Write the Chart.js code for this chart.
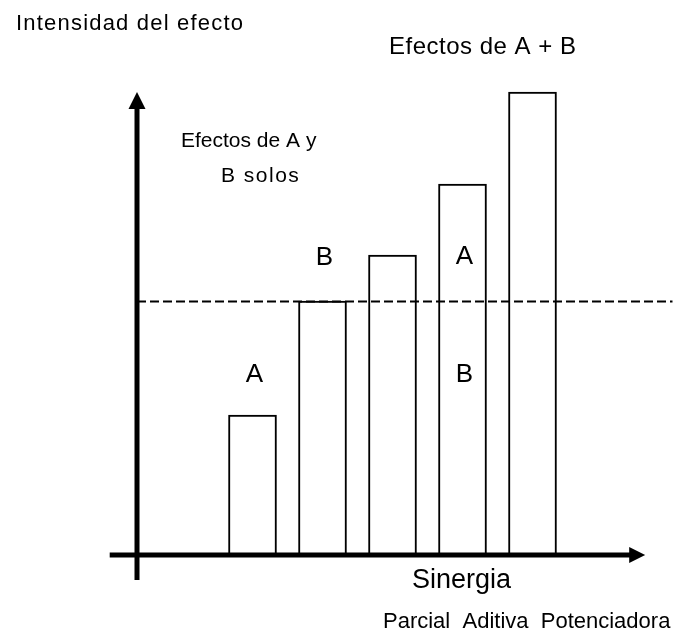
<!DOCTYPE html>
<html>
<head>
<meta charset="utf-8">
<script src="https://cdn.jsdelivr.net/npm/chart.js@4/dist/chart.umd.min.js"></script>
<style>
    body { margin: 0; background: #fff; }
    #wrap { width: 673px; height: 644px; }
</style>
</head>
<body>
<div id="wrap"><canvas id="sinergiaChart" width="673" height="644"></canvas></div>
<script>
// bar positions along the x axis and the effect intensity of each bar
const barPositions = [1, 2, 3, 4, 5];
const intensities = [1.40, 2.54, 3.00, 3.71, 4.63];
// dashed reference line = effect of B alone
const thresholdValue = 2.54;
// letters written over / inside the bars: [bar position, value, text]
const barLetters = [[1, 1.73, 'A'], [2, 2.90, 'B'], [4, 2.91, 'A'], [4, 1.73, 'B']];
const sinergiaTypes = ['Parcial', 'Aditiva', 'Potenciadora'];

const FONT = '"Liberation Sans", Arial, sans-serif';

const drawingPlugin = {
    id: 'drawing',
    afterDatasetsDraw(chart) {
        const ctx = chart.ctx;
        const xs = chart.scales.x;
        const ys = chart.scales.y;

        const axisX = xs.getPixelForValue(-0.65);
        const baseY = ys.getPixelForValue(0);
        const xLeft = xs.getPixelForValue(-1.04);
        const xTip = xs.getPixelForValue(6.61);
        const yTip = ys.getPixelForValue(4.63);
        const yBottom = ys.getPixelForValue(-0.25);

        ctx.save();
        // dashed threshold line
        const ty = Math.round(ys.getPixelForValue(thresholdValue)) + 0.5;
        ctx.strokeStyle = '#000';
        ctx.lineWidth = 2;
        ctx.setLineDash([9, 4]);
        ctx.beginPath();
        ctx.moveTo(axisX, ty);
        ctx.lineTo(chart.chartArea.right, ty);
        ctx.stroke();
        ctx.setLineDash([]);

        // axes
        ctx.lineWidth = 5;
        ctx.beginPath();
        ctx.moveTo(axisX, yBottom);
        ctx.lineTo(axisX, yTip + 16);
        ctx.moveTo(xLeft, baseY);
        ctx.lineTo(xTip - 14, baseY);
        ctx.stroke();

        ctx.fillStyle = '#000';
        ctx.beginPath();
        ctx.moveTo(axisX, yTip);
        ctx.lineTo(axisX - 8.5, yTip + 17);
        ctx.lineTo(axisX + 8.5, yTip + 17);
        ctx.closePath();
        ctx.fill();
        ctx.beginPath();
        ctx.moveTo(xTip, baseY);
        ctx.lineTo(xTip - 16, baseY - 8);
        ctx.lineTo(xTip - 16, baseY + 8);
        ctx.closePath();
        ctx.fill();

        // letters on bars
        ctx.textAlign = 'center';
        ctx.textBaseline = 'alphabetic';
        ctx.font = '26px ' + FONT;
        for (const [pos, val, txt] of barLetters) {
            ctx.fillText(txt, xs.getPixelForValue(pos) + 2, ys.getPixelForValue(val));
        }

        // titles
        ctx.textAlign = 'left';
        ctx.font = '22px ' + FONT;
        ctx.letterSpacing = '1.2px';
        ctx.fillText('Intensidad del efecto', 16, 30);
        ctx.letterSpacing = '0.5px';
        ctx.font = '24px ' + FONT;
        ctx.fillText('Efectos de A + B', 389, 54);
        ctx.letterSpacing = '0px';
        ctx.font = '21px ' + FONT;
        ctx.fillText('Efectos de A y', 181, 147);
        ctx.letterSpacing = '1.5px';
        ctx.fillText('B solos', 221, 182);
        ctx.letterSpacing = '0px';
        ctx.font = '27px ' + FONT;
        ctx.fillText('Sinergia', 412, 588);
        ctx.font = '22px ' + FONT;
        ctx.fillText(sinergiaTypes.join('  '), 383, 628);
        ctx.restore();
    }
};

new Chart(document.getElementById('sinergiaChart'), {
    type: 'bar',
    data: {
        datasets: [{
            data: barPositions.map((p, i) => ({x: p, y: intensities[i]})),
            backgroundColor: '#fff',
            borderColor: '#000',
            borderWidth: 2,
            barThickness: 48
        }]
    },
    options: {
        responsive: false,
        animation: false,
        layout: {padding: {left: 105.5, right: 0.5, top: 55, bottom: 89}},
        plugins: {legend: {display: false}, tooltip: {enabled: false}},
        scales: {
            x: {type: 'linear', min: -1.1, max: 7.0, offset: false, display: false},
            y: {min: 0, max: 5, display: false}
        }
    },
    plugins: [drawingPlugin]
});
</script>
</body>
</html>
